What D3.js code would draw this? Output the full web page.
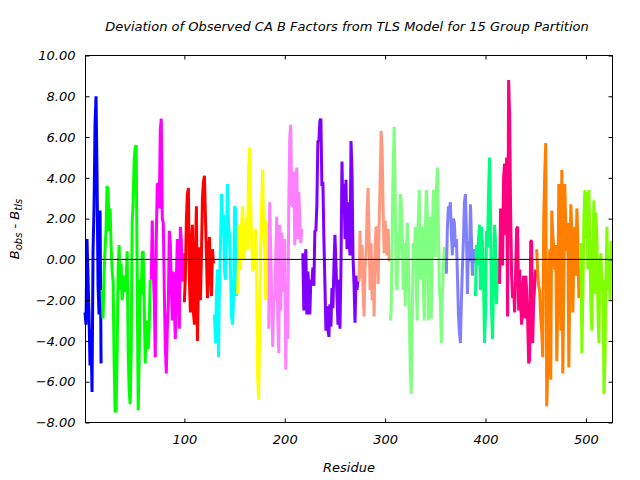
<!DOCTYPE html>
<html><head><meta charset="utf-8">
<script src="https://cdn.jsdelivr.net/npm/d3@7"></script>
<style>body{margin:0;background:#fff}text{font-family:"DejaVu Sans",sans-serif;font-style:italic}</style>
</head><body><svg id="c" width="640" height="480"></svg>
<script>
const groupColors = ["#0000ff","#00ff00","#ff00ff","#ff0000","#00ffff","#ffff00","#ff80ff","#8000ff","#ff9980","#80ff80","#8080ff","#00ff80","#ff0080","#ff8000","#80ff00"];
const groupStarts = [1,18,67,100,130,153,184,218,274,305,361,390,414,451,495];
const g01 = [-2.6,-3.2,1.0,-0.9,-2.7,-5.2,-3.4,-6.5,0.4,2.5,6.6,8.0,4.1,-1.3,-2.7,2.4,-5.1];
const g02 = [-1.5,-2.9,-0.7,0.5,1.5,3.6,3.4,1.4,2.5,0.7,-0.5,-1.1,-5.0,-7.5,-7.4,-4.6,-0.5,0.7,-1.5,-0.2,-2.0,-1.4,-0.8,-1.6,-1.1,0.4,-4.4,-6.4,-7.1,-4.5,1.8,2.8,4.9,5.5,5.6,-0.9,-7.4,-4.8,-1.0,-1.7,0.3,0.4,-2.1,-5.1,-3.0,-4.1,-4.4,-3.2,-1.0];
const g03 = [-1.0,1.9,-0.5,-2.0,-4.8,0.9,3.7,3.7,2.5,6.3,6.9,2.0,1.8,-1.5,-4.3,-5.6,-3.4,-2.2,1.4,0.8,-1.4,-3.0,-0.6,-2.5,-3.9,-1.0,1.0,-1.7,-3.4,1.6,0.9,-1.1,0.3];
const g04 = [-2.1,-0.8,1.9,3.2,3.5,-1.0,-2.6,0.8,1.7,-2.6,-3.2,0.4,2.6,-4.0,-1.2,0.6,-2.0,0.2,3.0,3.8,4.1,2.0,0.2,-1.9,0.4,1.1,-0.9,-1.8,0.5,-0.2];
const g05 = [-2.7,-4.1,-1.6,-0.5,-4.8,-1.1,0.8,3.2,1.4,2.2,-0.6,-1.0,1.0,3.7,1.6,1.2,-0.7,-2.8,-3.2,-1.9,2.6,2.5,-1.8];
const g06 = [-1.7,0.2,1.7,-0.5,1.7,2.6,0.0,0.4,1.4,2.1,0.5,4.5,5.5,2.9,1.0,-0.6,0.4,-0.5,1.5,-1.0,-5.7,-6.9,-3.5,0.7,2.6,4.4,1.4,0.5,-2.0,1.9,-0.7];
const g07 = [-3.4,2.8,0.5,-1.8,-4.3,-1.8,-2.0,0.2,2.1,-2.8,-4.6,1.7,-2.5,1.3,0.7,-1.6,1.0,-5.4,-1.2,-3.9,2.7,6.0,6.6,2.7,2.6,4.3,0.7,3.9,4.5,1.0,3.3,2.0,0.8,1.5];
const g08 = [0.3,-2.5,-0.5,0.5,-2.7,-0.6,-1.3,-2.7,-1.0,-1.2,-0.4,-1.3,1.4,1.4,2.7,5.8,5.8,6.8,6.9,3.6,3.8,1.0,-1.2,-3.5,-2.3,-3.4,-3.8,-2.2,-3.3,-1.4,-2.4,-0.3,1.2,-0.2,-1.8,-3.2,-1.0,-3.4,-0.4,4.8,2.3,3.7,1.0,3.9,0.5,2.8,1.1,0.2,5.8,4.3,0.1,-1.2,-3.1,-0.8,-1.5,-1.0];
const g09 = [-1.1,1.4,-0.9,0.7,-1.5,-2.8,-0.4,0.3,2.2,3.5,1.2,-1.5,0.8,-2.0,-0.1,-2.8,0.6,1.6,1.5,-1.2,1.7,3.8,6.3,5.4,2.5,0.3,1.9,1.0,0.2,1.5,-0.1];
const g10 = [-3.0,-2.6,1.5,4.5,6.5,3.4,-1.2,-1.5,1.3,0.0,3.2,2.9,1.3,-1.5,0.8,-2.3,-1.0,1.8,0.7,-2.5,-5.3,-6.6,-2.8,0.8,0.1,1.6,-1.2,-3.0,1.9,3.4,-1.0,1.5,1.6,-1.3,-3.0,1.3,3.4,2.3,-3.0,0.7,2.1,-2.9,1.0,3.4,2.9,0.1,3.3,4.5,2.0,-1.5,-2.0,-4.1,-1.8,-0.3,0.6,-0.5];
const g11 = [-0.7,1.5,2.6,2.4,2.8,1.2,0.2,2.0,1.8,0.6,1.0,-0.7,-2.7,-3.6,-4.1,-2.0,-0.4,0.9,2.8,3.2,1.3,-1.7,0.9,-0.1,2.7,1.0,-0.8,0.5,-0.2];
const g12 = [-1.8,0.7,-0.3,1.0,1.7,-1.5,1.6,0.8,-1.0,-4.1,-2.6,1.4,0.6,3.2,5.0,2.0,-2.5,-3.9,-1.3,1.7,0.9,-2.2,0.0,-0.9];
const g13 = [-1.2,2.5,0.9,-0.3,4.0,4.7,1.2,5.0,-2.8,8.8,7.1,2.4,-0.8,-1.9,-1.4,-2.6,-0.6,1.5,1.6,-2.5,-0.5,-2.0,-3.2,-1.5,-0.8,-2.9,-0.8,-1.5,-3.0,-5.1,-4.9,0.9,0.9,-4.1,-2.0,-1.3,-0.5];
const g14 = [0.5,-0.6,-1.3,-1.6,-2.9,-3.5,-4.8,2.0,4.2,5.7,-7.2,-5.4,-1.5,0.5,-5.9,2.4,1.2,0.6,-0.5,0.7,-5.0,-2.4,3.7,2.8,-3.5,4.4,-5.6,-1.5,3.7,1.4,0.4,1.8,-5.3,-1.2,2.7,1.4,-2.6,0.2,1.6,-0.8,2.5,1.0,-1.9,-0.4];
const g15 = [0.8,-4.6,-1.8,2.0,3.4,1.0,3.3,-0.5,3.4,0.8,-2.4,-3.5,0.6,2.9,-1.7,2.3,1.0,-2.6,-4.1,-0.2,0.3,-1.5,-1.0,-6.6,-5.1,-1.0,1.6,-1.5,0.0,-2.0,0.9];
const groupValues = [g01,g02,g03,g04,g05,g06,g07,g08,g09,g10,g11,g12,g13,g14,g15];
const xTicks = [100,200,300,400,500];
const yTicks = [-8,-6,-4,-2,0,2,4,6,8,10];
const titleText = "Deviation of Observed CA B Factors from TLS Model for 15 Group Partition";

const svg = d3.select("#c");
const L=85.5, R=612.5, T=55.5, B=422.5;
const x = d3.scaleLinear().domain([1.5,526.5]).range([L,R]);
const y = d3.scaleLinear().domain([-8,10]).range([B,T]);

const line = d3.line().x(d=>x(d[0])).y(d=>y(d[1]));
groupValues.forEach((vals,gi)=>{
  const pts = vals.map((v,i)=>[groupStarts[gi]+i, v]);
  svg.append("path").datum(pts).attr("d",line)
    .attr("fill","none").attr("stroke",groupColors[gi]).attr("stroke-width",3)
    .attr("stroke-linejoin","bevel");
});
// zero line
svg.append("line").attr("x1",L).attr("x2",R).attr("y1",y(0)).attr("y2",y(0)).attr("stroke","#000").attr("stroke-width",1);

const fmt = d3.format(".2f");
svg.append("g").attr("transform",`translate(0,${B})`).call(d3.axisBottom(x).tickValues(xTicks).tickSize(-4).tickPadding(12).tickFormat(d3.format("d")))
  .call(g=>{g.select(".domain").remove();g.selectAll("text").attr("font-size",13).attr("font-family","DejaVu Sans").attr("font-style","italic").attr("dy","0.71em").attr("fill","#000");});
svg.append("g").attr("transform",`translate(0,${T})`).call(d3.axisTop(x).tickValues(xTicks).tickSize(-4).tickFormat(""))
  .call(g=>g.select(".domain").remove());
svg.append("g").attr("transform",`translate(${L},0)`).call(d3.axisLeft(y).tickValues(yTicks).tickSize(-4).tickPadding(10).tickFormat(fmt))
  .call(g=>{g.select(".domain").remove();g.selectAll("text").attr("font-size",13).attr("font-family","DejaVu Sans").attr("font-style","italic").attr("fill","#000");});
svg.append("g").attr("transform",`translate(${R},0)`).call(d3.axisRight(y).tickValues(yTicks).tickSize(-4).tickFormat(""))
  .call(g=>g.select(".domain").remove());
svg.append("rect").attr("x",L).attr("y",T).attr("width",R-L).attr("height",B-T).attr("fill","none").attr("stroke","#000").attr("stroke-width",1);

svg.append("text").attr("x",347).attr("y",31).attr("text-anchor","middle").attr("font-size",13).text(titleText);
svg.append("text").attr("x",(L+R)/2).attr("y",472).attr("text-anchor","middle").attr("font-size",13).text("Residue");
const yl = svg.append("text").attr("transform","translate(19,229) rotate(-90)").attr("text-anchor","middle").attr("font-size",13);
yl.append("tspan").text("B");
yl.append("tspan").attr("font-size",10).attr("dy",3).text("obs");
yl.append("tspan").attr("dy",-3).text("  - B");
yl.append("tspan").attr("font-size",10).attr("dy",3).text("tls");
</script></body></html>
